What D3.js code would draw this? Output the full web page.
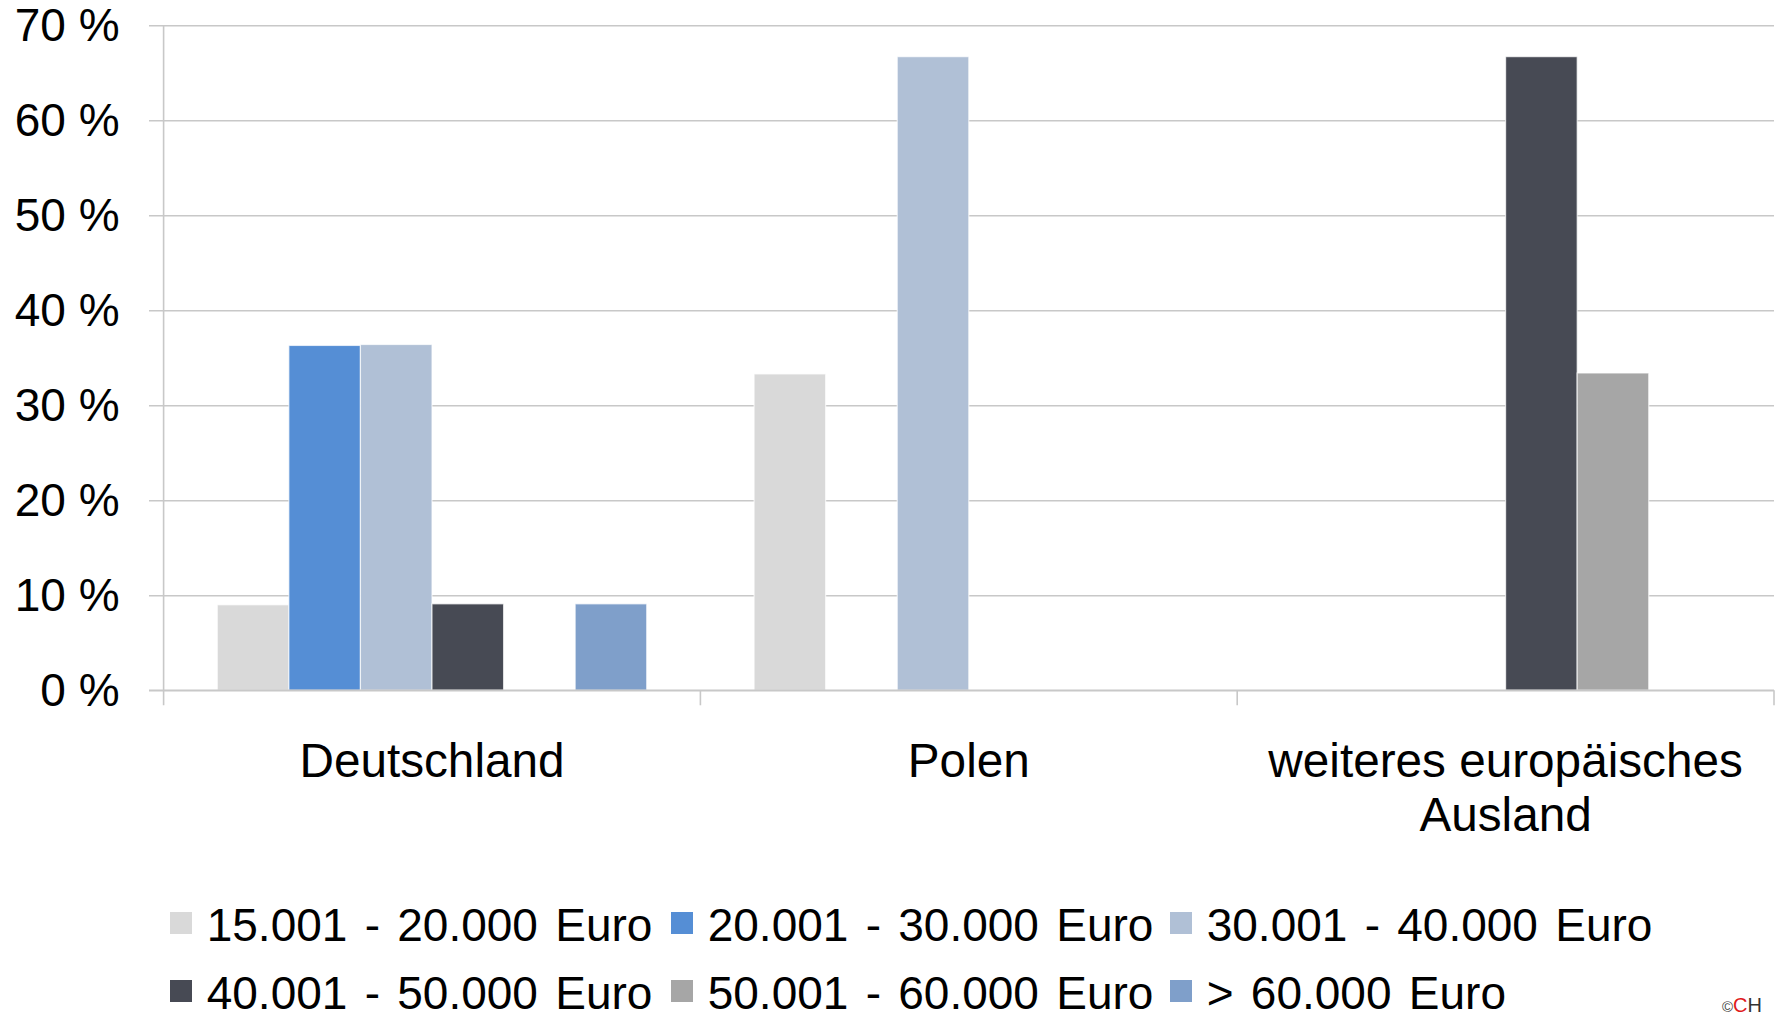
<!DOCTYPE html>
<html>
<head>
<meta charset="utf-8">
<script src="https://cdn.jsdelivr.net/npm/d3@7"></script>
<style>
  html, body { margin: 0; padding: 0; background: #fff; }
  svg { display: block; font-family: "Liberation Sans", Arial, sans-serif; }
</style>
</head>
<body>
<div id="chart"></div>
<script>
// data (percent)
const categories = ["Deutschland", "Polen", "weiteres europäisches Ausland"];
const seriesNames = [
  "15.001 - 20.000 Euro",
  "20.001 - 30.000 Euro",
  "30.001 - 40.000 Euro",
  "40.001 - 50.000 Euro",
  "50.001 - 60.000 Euro",
  "> 60.000 Euro"
];
const v15to20 = [9.0, 33.3, 0];
const v20to30 = [36.3, 0, 0];
const v30to40 = [36.4, 66.7, 0];
const v40to50 = [9.1, 0, 66.7];
const v50to60 = [0, 0, 33.4];
const v60plus = [9.1, 0, 0];
const yTicks = [0, 10, 20, 30, 40, 50, 60, 70];

const seriesValues = [v15to20, v20to30, v30to40, v40to50, v50to60, v60plus];
const colors = ["#d9d9d9", "#558ed5", "#b0c0d6", "#474a54", "#a6a6a6", "#7f9fca"];

const width = 1781, height = 1019;
const plotLeft = 163.6, plotRight = 1774, plotTop = 25.3, plotBottom = 690.3;

const svg = d3.select("#chart").append("svg")
    .attr("width", width)
    .attr("height", height);

const y = d3.scaleLinear().domain([0, 70]).range([plotBottom, plotTop]);
const x0 = d3.scaleBand().domain(categories).range([plotLeft, plotRight]).padding(0);
const bw = x0.bandwidth();
const x1 = d3.scaleBand().domain(d3.range(seriesNames.length)).range([bw * 0.1, bw * 0.9]).padding(0);

// gridlines
svg.append("g")
    .attr("transform", "translate(" + plotRight + ",0)")
    .call(d3.axisLeft(y).tickValues(yTicks).tickSize(plotRight - 149).tickFormat(""))
    .call(g => g.select(".domain").remove())
    .call(g => g.selectAll("line").attr("stroke", "#c8c8c8").attr("stroke-width", 1.6));

// y labels
svg.append("g")
    .attr("transform", "translate(" + plotLeft + ",0)")
    .call(d3.axisLeft(y).tickValues(yTicks).tickSize(0).tickPadding(44).tickFormat(d => d + " %"))
    .call(g => g.select(".domain").remove())
    .call(g => g.selectAll("text")
        .attr("font-family", "'Liberation Sans', Arial, sans-serif")
        .attr("font-size", 46)
        .attr("fill", "#000"));

// y axis line
svg.append("line")
    .attr("x1", plotLeft).attr("x2", plotLeft)
    .attr("y1", y(70)).attr("y2", plotBottom + 15)
    .attr("stroke", "#c8c8c8").attr("stroke-width", 1.6);

// category boundary ticks
const bounds = categories.map(c => x0(c) + bw);
svg.append("g").selectAll("line")
    .data(bounds)
    .join("line")
    .attr("x1", d => d).attr("x2", d => d)
    .attr("y1", plotBottom).attr("y2", plotBottom + 15)
    .attr("stroke", "#c8c8c8").attr("stroke-width", 1.6);

// bars
const groups = svg.append("g").selectAll("g")
    .data(categories)
    .join("g")
    .attr("transform", d => "translate(" + x0(d) + ",0)");

groups.selectAll("rect")
    .data((c, ci) => seriesValues.map((vals, si) => ({ si: si, v: vals[ci] })).filter(d => d.v > 0))
    .join("rect")
    .attr("x", d => x1(d.si))
    .attr("width", x1.bandwidth())
    .attr("y", d => y(d.v))
    .attr("height", d => y(0) - y(d.v))
    .attr("fill", d => colors[d.si])
    .attr("stroke", "#ffffff")
    .attr("stroke-opacity", 0.7)
    .attr("stroke-width", 1.2);

// redraw zero line on top
svg.append("line")
    .attr("x1", 149).attr("x2", plotRight)
    .attr("y1", plotBottom).attr("y2", plotBottom)
    .attr("stroke", "#c8c8c8").attr("stroke-width", 1.6);

// category labels, wrapped to band width
const catText = svg.append("g").selectAll("text")
    .data(categories)
    .join("text")
    .attr("x", d => x0(d) + bw / 2)
    .attr("y", 777)
    .attr("text-anchor", "middle")
    .attr("font-size", 47.7)
    .attr("fill", "#000");

catText.each(function (d) {
  const t = d3.select(this);
  const words = d.split(" ");
  let line = [];
  let tspan = t.append("tspan").attr("x", x0(d) + bw / 2).attr("dy", 0);
  words.forEach(w => {
    line.push(w);
    tspan.text(line.join(" "));
    if (tspan.node().getComputedTextLength() > bw - 40 && line.length > 1) {
      line.pop();
      tspan.text(line.join(" "));
      line = [w];
      tspan = t.append("tspan").attr("x", x0(d) + bw / 2).attr("dy", 53.5).text(w);
    }
  });
});

// legend
const legX = [170, 671, 1170];
const legY = [941, 1009];
const legend = svg.append("g").selectAll("g")
    .data(seriesNames)
    .join("g")
    .attr("transform", (d, i) => "translate(" + legX[i % 3] + "," + legY[Math.floor(i / 3)] + ")");

legend.append("rect")
    .attr("x", 0).attr("y", -29)
    .attr("width", 22).attr("height", 22)
    .attr("fill", (d, i) => colors[i]);

legend.append("text")
    .attr("x", 36.7).attr("y", 0)
    .attr("font-size", 46)
    .attr("word-spacing", 4.5)
    .attr("fill", "#000")
    .text(d => d);

// logo remnant at bottom right
const logo = svg.append("text")
    .attr("x", 1722).attr("y", 1012)
    .attr("font-size", 20);
logo.append("tspan").attr("fill", "#444").attr("font-size", 15).text("©");
logo.append("tspan").attr("fill", "#e0191b").text("C");
logo.append("tspan").attr("fill", "#333").text("H");
</script>
</body>
</html>
